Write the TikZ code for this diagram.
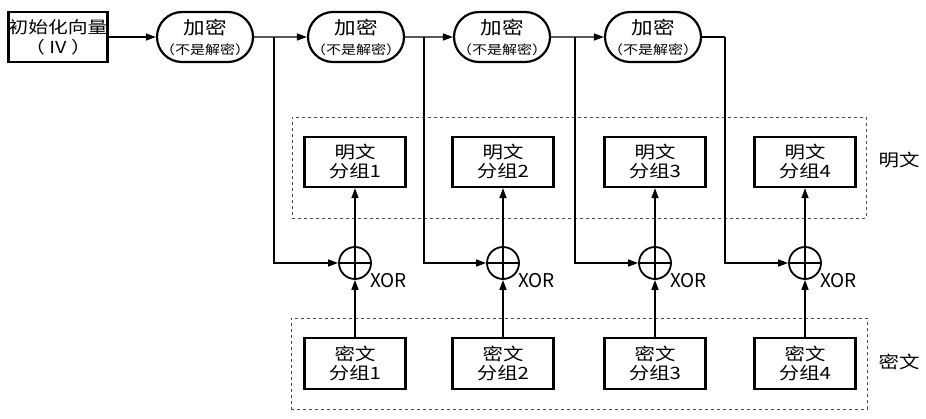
\documentclass[tikz,border=0pt]{standalone}
\usepackage{fontspec}
\setmainfont{Noto Sans CJK SC}
\newfontfamily\wide[FakeStretch=1.2]{Noto Sans CJK SC}
\usetikzlibrary{shapes.misc,arrows.meta}
\tikzset{
  conn/.style={line width=1.4pt},
  arr/.style={conn,-{Triangle[length=10pt,width=7pt]}},
  ivbox/.style={draw,line width=2.2pt,minimum width=99pt,minimum height=50pt,inner sep=0pt,align=center,font=\wide\fontsize{16.5}{20}\selectfont},
  encbox/.style={draw,rounded rectangle,line width=2.2pt,minimum width=96pt,minimum height=50pt,inner sep=0pt},
  enclab/.style={inner sep=0pt,align=center,font=\wide\fontsize{18}{20}\selectfont},
  blkbox/.style={draw,line width=2.2pt,minimum width=101pt,minimum height=50pt,inner sep=0pt,align=center,font=\wide\fontsize{17}{19}\selectfont},
  xorc/.style={draw,circle,line width=1.8pt,minimum size=32pt,inner sep=0pt,
    path picture={\draw[line width=1.4pt] (path picture bounding box.north) -- (path picture bounding box.south)
      (path picture bounding box.west) -- (path picture bounding box.east);}},
  grp/.style={draw=black!70,dashed,line width=0.8pt},
  xlab/.style={font=\fontsize{19}{20}\selectfont,inner sep=0pt},
  side/.style={font=\wide\fontsize{17}{18}\selectfont,inner sep=0pt}
}
\newcommand{\enctext}{加密\\{\fontsize{12.5}{20}\selectfont （不是解密）}}
\begin{document}
\begin{tikzpicture}[x=1pt,y=-1pt]
\useasboundingbox (0,0) rectangle (926,418);
% dashed groups
\node[grp,minimum width=574pt,minimum height=101pt] (gp) at (579,167.5) {};
\node[grp,minimum width=576pt,minimum height=91pt] (gc) at (579,363.5) {};
\node[side] (lp) at (899,160) {明文};
\node[side] (lc) at (899,362) {密文};
% top row
\node[ivbox] (iv) at (58,37) {初始化向量\\（ IV ）};
\node[encbox,label={[enclab]center:\enctext}] (e1) at (205,37) {};
\node[encbox,label={[enclab]center:\enctext}] (e2) at (356,37) {};
\node[encbox,label={[enclab]center:\enctext}] (e3) at (502,37) {};
\node[encbox,label={[enclab]center:\enctext}] (e4) at (653,37) {};
\coordinate (b1) at (274,37);
\coordinate (b2) at (424,37);
\coordinate (b3) at (575,37);
\coordinate (b4) at (725,37);
\draw[arr] (iv) -- (e1);
\draw[arr] (e1) -- (e2);
\draw[arr] (e2) -- (e3);
\draw[arr] (e3) -- (e4);
\draw[conn] (e4.east) -- (b4);
% blocks
\foreach \i/\x in {1/355,2/503,3/655,4/805}{
  \node[blkbox] (p\i) at (\x,162) {明文\\分组\i};
  \node[xorc] (x\i) at (\x,263) {};
  \node[blkbox,minimum height=51pt] (c\i) at (\x,363.5) {密文\\分组\i};
  \node[xlab,anchor=west] (xl\i) at ([xshift=15pt,yshift=-18pt]x\i.center) {XOR};
  \draw[arr] (c\i) -- (x\i);
  \draw[arr] (x\i) -- (p\i);
  \draw[arr] (b\i) |- (x\i);
}
\end{tikzpicture}
\end{document}
